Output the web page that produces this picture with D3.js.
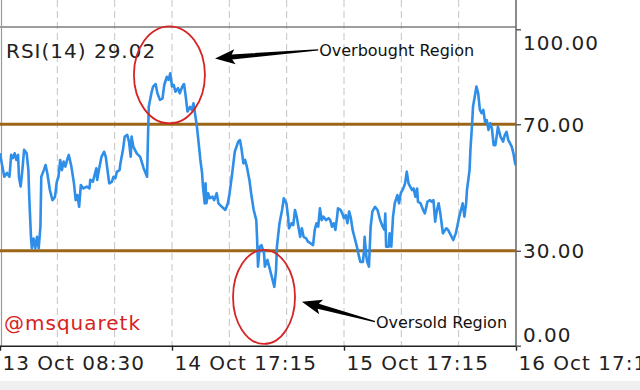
<!DOCTYPE html>
<html>
<head>
<meta charset="utf-8">
<script src="https://cdn.jsdelivr.net/npm/d3@7"></script>
<style>
body{margin:0;background:#fff;}
svg{display:block;font-family:"DejaVu Sans",sans-serif;}
</style>
</head>
<body>
<svg id="chart" width="640" height="390"></svg>
<script>
// RSI(14) readings, x = bar number, y = RSI value
var BARS = [0,2,5,8,11,13,15,17,19,21,22,24,26,28,31,33,34,36,37,39,41,43,45,47,48,51,53,55,58,61,64,66,68,70,72,74,76,78,80,83,86,88,90,92,94,97,101,104,105,108,112,113,115,118,121,123,125,127,130,132,134,136,139,140,143,145,
  148,150,152,153,155,159,163,167,171,172,173,176,178,181,183,186,189,191,194,196,198,200,202,204,207,209,212,214,216,218,221,223,225,227,229,231,233,235,236,238,239,240,242,244,247,249,252,254,258,262,265,267,270,273,277,279,281,283,285,287,290,292,
  295,298,299,300,302,304,307,308,311,313,316,319,321,322,325,328,330,333,335,336,339,341,343,345,347,349,351,353,356,358,361,364,366,368,370,372,374,376,379,382,384,386,388,390,392,393,396,398,400,402,404,406,408,410,413,415,417,419,422,423,424,426,427,429,430,431,433,436,439,442,
  445,447,448,449,452,453,455,457,459,462,464,466,469,471,473,475,477,479,481,483,485,486,489,492,494,497,500,502,504,506,508,510,512,514,515,519,521,524,527,530,532,534,536,538,540,542,543,546,547,549,550,552,554,556,558,560,562,564,566,568,570,572,574,576,578,579,582,585,587,589,591,593,595,597,599,600];
var RSI = [60.8,57.7,53.4,54.6,53.4,60.3,59.3,60.8,58.7,60.3,53.4,50.3,55.5,61.9,60.8,55.5,47.1,34.4,30.8,33.9,30.8,34.4,30.8,37.6,53.4,55.5,57.1,54.5,49.2,46.0,47.1,51.8,53.4,58.7,55.5,58.2,56.6,58.7,60.3,56.6,51.3,46.0,47.6,43.9,50.8,49.7,50.3,49.7,52.4,51.8,56.1,52.4,55.5,59.7,61.3,59.7,55.5,51.3,51.8,53.4,52.9,55.0,55.5,57.6,61.9,66.1,
  66.6,64.5,59.7,66.1,62.9,60.8,59.7,56.1,53.4,65.0,75.5,79.8,81.9,82.7,79.8,77.7,78.2,82.4,85.0,84.0,86.1,81.9,82.4,80.3,81.4,79.8,81.9,82.7,78.7,74.0,75.5,74.5,76.6,72.9,69.2,64.0,58.7,54.5,50.3,45.0,51.3,45.0,48.2,46.6,47.1,46.0,48.2,45.0,43.9,42.9,45.0,48.2,54.5,61.3,64.5,65.0,61.9,57.6,58.7,56.6,52.4,48.2,
  42.9,39.7,33.4,25.0,31.3,31.8,29.2,25.0,27.1,25.0,21.8,18.6,23.9,31.3,38.7,42.9,46.6,45.0,40.8,37.1,38.7,38.1,42.9,40.8,37.6,34.4,37.1,34.4,33.9,32.9,32.4,31.8,36.6,38.7,37.6,43.4,39.7,40.8,39.7,40.3,39.7,37.6,38.7,36.6,40.8,43.4,42.9,41.8,40.3,41.3,38.7,42.4,40.3,36.6,33.4,31.3,28.7,26.5,26.5,29.2,34.4,28.1,26.5,25.0,31.3,37.6,42.4,43.9,42.9,39.7,
  37.6,36.6,41.8,31.3,31.3,35.5,31.3,40.8,45.0,47.6,45.0,48.2,49.7,51.3,55.0,51.3,50.3,49.2,49.7,47.1,49.7,45.5,45.0,42.9,41.8,45.5,46.0,45.5,46.0,39.2,42.9,45.0,41.8,37.6,35.5,37.1,36.6,35.0,33.4,35.5,38.1,40.8,42.9,45.0,40.8,45.0,49.2,55.5,61.9,70.3,75.5,78.7,81.9,79.8,74.5,73.5,74.5,70.8,71.3,68.2,70.3,68.7,63.4,63.4,67.1,69.2,66.1,64.5,66.6,67.6,65.0,64.0,62.9,60.8,57.6,57.0];

var LEVELS = [30, 70];
var Y_TICKS = [0, 30, 70, 100];
var Y_LABELS = ["0.00", "30.00", "70.00", "100.00"];
var X_TICKS = [0, 200, 400, 600];
var X_LABELS = ["13 Oct 08:30", "14 Oct 17:15", "15 Oct 17:15", "16 Oct 17:15"];
var TITLE = "RSI(14) 29.02";
var WATERMARK = "@msquaretk";

// annotations in data space (bar, value)
var CIRCLES = [ { bar: 197, value: 85.6, rx: 35.5, ry: 48.5 },
                { bar: 307, value: 15.4, rx: 31, ry: 47 } ];
var ARROWS = [ { text: "Overbought Region", from: [370, 93.5], to: [250, 90.8] },
               { text: "Oversold Region",   from: [436, 7.6],  to: [351, 13.9] } ];

var W = 640, H = 390;
var plotL = 0, plotR = 516, plotT = 27, plotB = 345.7;

var svg = d3.select("#chart");
var x = d3.scaleLinear().domain([0, 600]).range([plotL, plotR]);
var y = d3.scaleLinear().domain([0, 100]).range([plotB, 29.3]);

// bottom strip
svg.append("rect").attr("x", 0).attr("y", 381).attr("width", W).attr("height", H - 381).attr("fill", "#f0f0f0");

// dashed vertical grid
var gridBars = d3.range(1, 9).map(function(i){ return i * 600 / 9; });
svg.append("g").selectAll("line").data(gridBars).enter().append("line")
  .attr("x1", function(d){ return x(d); }).attr("x2", function(d){ return x(d); })
  .attr("y1", 0).attr("y2", plotB)
  .attr("stroke", "#c4c4c4").attr("stroke-width", 1).attr("stroke-dasharray", "7,4");

// panel frame
svg.append("line").attr("x1", 0).attr("x2", plotR).attr("y1", plotT).attr("y2", plotT)
  .attr("stroke", "#7c7c7c").attr("stroke-width", 1.6);
svg.append("line").attr("x1", 1.5).attr("x2", 1.5).attr("y1", 0).attr("y2", plotB)
  .attr("stroke", "#9a9a9a").attr("stroke-width", 1.2);
svg.append("line").attr("x1", plotR).attr("x2", plotR).attr("y1", 0).attr("y2", plotB)
  .attr("stroke", "#6e6e6e").attr("stroke-width", 1.6);

// overbought / oversold levels
svg.append("g").selectAll("line").data(LEVELS).enter().append("line")
  .attr("x1", plotL).attr("x2", plotR)
  .attr("y1", function(d){ return y(d); }).attr("y2", function(d){ return y(d); })
  .attr("stroke", "#9c6618").attr("stroke-width", 3);

// RSI line
svg.append("clipPath").attr("id", "plot").append("rect")
  .attr("x", plotL).attr("y", plotT).attr("width", plotR - plotL).attr("height", plotB - plotT);
var pts = BARS.map(function(b, i){ return [b, RSI[i]]; });
svg.append("path").datum(pts)
  .attr("clip-path", "url(#plot)")
  .attr("fill", "none").attr("stroke", "#2e8ee8").attr("stroke-width", 2.6)
  .attr("stroke-linejoin", "round")
  .attr("d", d3.line().x(function(d){ return x(d[0]); }).y(function(d){ return y(d[1]); }));

// bottom axis
var xAxis = svg.append("g").attr("transform", "translate(0," + plotB + ")")
  .call(d3.axisBottom(x).tickValues(X_TICKS).tickSize(5).tickFormat(function(d, i){ return X_LABELS[i]; }));
xAxis.select(".domain").attr("stroke", "#222").attr("stroke-width", 1.6).attr("d", "M0,0.5H" + plotR);
xAxis.selectAll(".tick line").attr("stroke", "#222").attr("stroke-width", 1.4);
xAxis.selectAll(".tick text").attr("text-anchor", "start").attr("dx", 2).attr("y", 24).attr("dy", 0)
  .attr("font-size", 20).attr("letter-spacing", 1).attr("fill", "#222").attr("font-family", "DejaVu Sans");

// right axis
var yAxis = svg.append("g").attr("transform", "translate(" + plotR + ",0)")
  .call(d3.axisRight(y).tickValues(Y_TICKS).tickSize(5).tickFormat(function(d, i){ return Y_LABELS[i]; }));
yAxis.select(".domain").remove();
yAxis.selectAll(".tick line").attr("stroke", "#555").attr("stroke-width", 1.4);
yAxis.selectAll(".tick text").attr("x", 7).attr("dy", "0.36em")
  .attr("y", function(d){ return d === 100 ? 13 : (d === 0 ? -11.5 : 0); })
  .attr("font-size", 20).attr("letter-spacing", 1).attr("fill", "#222").attr("font-family", "DejaVu Sans");

// title and watermark
svg.append("text").attr("x", 6).attr("y", 58).attr("font-size", 20).attr("letter-spacing", 1)
  .attr("fill", "#222").text(TITLE);
svg.append("text").attr("x", 4).attr("y", 330).attr("font-size", 20).attr("letter-spacing", 1)
  .attr("fill", "#d8221e").text(WATERMARK);

// red ellipses
svg.append("g").selectAll("ellipse").data(CIRCLES).enter().append("ellipse")
  .attr("cx", function(d){ return x(d.bar); }).attr("cy", function(d){ return y(d.value); })
  .attr("rx", function(d){ return d.rx; }).attr("ry", function(d){ return d.ry; })
  .attr("fill", "none").attr("stroke", "#d42424").attr("stroke-width", 1.8);

// arrows with labels
function arrowPath(t, p){
  var dx = p[0] - t[0], dy = p[1] - t[1], len = Math.sqrt(dx*dx + dy*dy);
  var ux = dx/len, uy = dy/len, nx = -uy, ny = ux;
  var L = 17, HW = 7.5;
  var bx = p[0] - ux*L, by = p[1] - uy*L;
  function pt(ax, ay, k){ return [ax + nx*k, ay + ny*k]; }
  var pts = [pt(t[0], t[1], 0.6), pt(bx, by, 2.6), pt(bx - ux*3, by - uy*3, HW), p,
             pt(bx - ux*3, by - uy*3, -HW), pt(bx, by, -2.6), pt(t[0], t[1], -0.6)];
  return "M" + pts.map(function(q){ return q[0].toFixed(1) + "," + q[1].toFixed(1); }).join("L") + "Z";
}
var ann = svg.append("g").selectAll("g").data(ARROWS).enter().append("g");
ann.append("path").attr("fill", "#000")
  .attr("d", function(d){ return arrowPath([x(d.from[0]), y(d.from[1])], [x(d.to[0]), y(d.to[1])]); });
ann.append("text").attr("font-size", 16).attr("fill", "#111")
  .attr("x", function(d){ return x(d.from[0]) + 1; })
  .attr("y", function(d){ return y(d.from[1]) + 6; })
  .text(function(d){ return d.text; });
</script>
</body>
</html>
